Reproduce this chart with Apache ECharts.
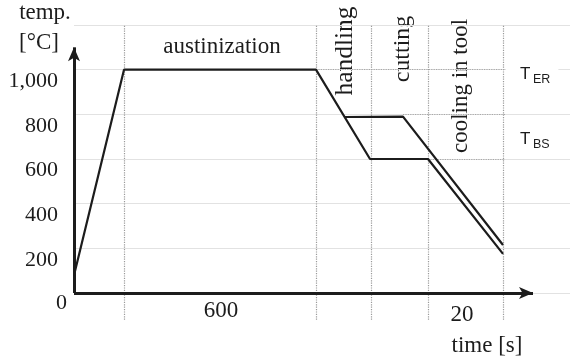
<!DOCTYPE html>
<html><head><meta charset="utf-8">
<script src="https://cdn.jsdelivr.net/npm/echarts@6/dist/echarts.min.js"></script>
<style>html,body{margin:0;padding:0;background:#fff}#c{width:570px;height:359px}</style>
</head><body><div id="c"></div>
<script>
// Schematic time axis (not to scale): x values are schematic time units.
const mainX = [0, 50, 242, 296, 354, 429];
const mainT = [80, 1000, 1000, 600, 600, 175];
const upperX = [271, 329, 429];
const upperT = [788, 790, 215];
const phaseX = [50, 242, 297, 354, 429];          // dotted phase boundaries
const levelT = [1000, 800, 600];                   // dotted temperature levels
const levelFromX = [242, 329, 354];
const yTickValues = [0, 200, 400, 600, 800, 1000];
const yTickLabels = ['0', '200', '400', '600', '800', '1,000'];
const xLabelValues = [147, 388];
const xLabelTexts = ['600', '20'];
const xArrowEnd = 459;
const yArrowEnd = 1100;

const SERIF = '"Liberation Serif","Times New Roman",serif';
const SANS = '"Liberation Sans",Arial,sans-serif';
const INK = '#1c1c1c';
const GRID = '#e2e2e2';

const zip = (xs, ys) => xs.map((x, i) => [x, ys[i]]);

const markData = [];
phaseX.forEach(x => markData.push([
  {coord: [x, -120], lineStyle: {type: 'dotted', color: '#9a9a9a', width: 1.2}},
  {coord: [x, 1200]}
]));
levelT.forEach((t, i) => markData.push([
  {coord: [levelFromX[i], t], lineStyle: {type: 'dotted', color: '#a8a8a8', width: 1.2}},
  {coord: [phaseX[phaseX.length - 1] + 2, t]}
]));
markData.push([
  {coord: [0, 0], symbol: 'none', lineStyle: {type: 'solid', color: INK, width: 3}},
  {coord: [xArrowEnd, 0], symbol: 'arrow', symbolSize: [9, 14]}
]);
markData.push([
  {coord: [0, 0], symbol: 'none', lineStyle: {type: 'solid', color: INK, width: 3}},
  {coord: [0, yArrowEnd], symbol: 'arrow', symbolSize: [9, 14]}
]);

const chart = echarts.init(document.getElementById('c'), null, {renderer: 'canvas'});
chart.setOption({
  animation: false,
  backgroundColor: '#fff',
  grid: {left: 74, right: 0, top: 25, bottom: 21.33, containLabel: false, outerBoundsMode: 'none'},
  xAxis: {
    type: 'value', min: 0, max: 496,
    offset: -44.67,
    axisLine: {show: false, onZero: false},
    axisTick: {show: false}, splitLine: {show: false},
    axisLabel: {
      customValues: xLabelValues,
      margin: 6,
      fontFamily: SERIF, fontSize: 23, color: INK,
      formatter: v => {
        const i = xLabelValues.indexOf(v);
        return i < 0 ? '' : (i === 1 ? '{b|' + xLabelTexts[i] + '}' : xLabelTexts[i]);
      },
      rich: {b: {fontFamily: SERIF, fontSize: 23, color: INK, padding: [4, 0, 0, 0]}}
    }
  },
  yAxis: {
    type: 'value', min: -200, max: 1200, interval: 200,
    axisLine: {show: false}, axisTick: {show: false},
    splitLine: {show: true, lineStyle: {color: ['rgba(0,0,0,0)', GRID, GRID, GRID, GRID, GRID, GRID, GRID], width: 1}},
    axisLabel: {
      margin: 7,
      verticalAlign: 'top',
      fontFamily: SERIF, fontSize: 22, color: INK,
      formatter: v => {
        const i = yTickValues.indexOf(v);
        if (i < 0) return '';
        return v === 0 ? '{z|' + yTickLabels[i] + '}' : '{n|' + yTickLabels[i] + '}';
      },
      rich: {
        z: {fontFamily: SERIF, fontSize: 22, color: INK, lineHeight: 20},
        n: {fontFamily: SERIF, fontSize: 22, color: INK, lineHeight: 23, padding: [0, 9, 0, 0]}
      }
    }
  },
  series: [
    {
      type: 'line', data: zip(mainX, mainT), symbol: 'none', clip: false,
      lineStyle: {color: INK, width: 2.2}, z: 5,
      markLine: {silent: true, symbol: 'none', label: {show: false}, animation: false, data: markData}
    },
    {
      type: 'line', data: zip(upperX, upperT), symbol: 'none', clip: false,
      lineStyle: {color: INK, width: 2.2}, z: 5
    }
  ],
  graphic: [
    {type: 'text', x: 45, y: 13, style: {text: 'temp.', font: '23px ' + SERIF, fill: INK, align: 'center', verticalAlign: 'middle'}},
    {type: 'text', x: 39, y: 43, style: {text: '[°C]', font: '23px ' + SERIF, fill: INK, align: 'center', verticalAlign: 'middle'}},
    {type: 'text', x: 222, y: 47, style: {text: 'austinization', font: '23px ' + SERIF, fill: INK, align: 'center', verticalAlign: 'middle'}},
    {type: 'text', x: 345, y: 51, rotation: Math.PI / 2, style: {text: 'handling', font: '25.5px ' + SERIF, fill: INK, align: 'center', verticalAlign: 'middle'}},
    {type: 'text', x: 403, y: 49, rotation: Math.PI / 2, style: {text: 'cutting', font: '24px ' + SERIF, fill: INK, align: 'center', verticalAlign: 'middle'}},
    {type: 'text', x: 461, y: 86, rotation: Math.PI / 2, style: {text: 'cooling in tool', font: '23px ' + SERIF, fill: INK, align: 'center', verticalAlign: 'middle'}},
    {type: 'text', x: 506, y: 74, z: 10, style: {text: 'T', font: '17px ' + SANS, fill: INK, align: 'left', verticalAlign: 'middle', backgroundColor: '#fff', padding: [1, 28, 1, 14]}},
    {type: 'text', x: 533, y: 80, z: 11, style: {text: 'ER', font: '12.5px ' + SANS, fill: INK, align: 'left', verticalAlign: 'middle'}},
    {type: 'text', x: 520, y: 139, z: 10, style: {text: 'T', font: '17px ' + SANS, fill: INK, align: 'left', verticalAlign: 'middle'}},
    {type: 'text', x: 533, y: 145, z: 11, style: {text: 'BS', font: '12.5px ' + SANS, fill: INK, align: 'left', verticalAlign: 'middle'}},
    {type: 'text', x: 487, y: 346, style: {text: 'time [s]', font: '23px ' + SERIF, fill: INK, align: 'center', verticalAlign: 'middle'}}
  ]
});
</script></body></html>
